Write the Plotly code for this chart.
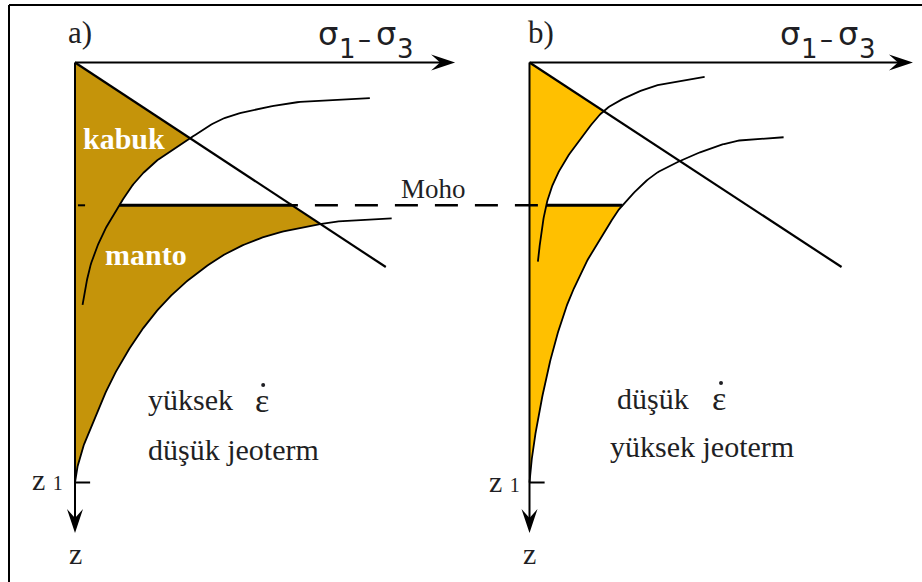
import numpy as np
import plotly.graph_objects as go

# ---- data (stress sigma1-sigma3 on x, depth z downward; z1 = 100) ----
MOHO_Z = 34.0
Z1 = 100.0
DEPTH_AXIS_LEN = 112.0
SIGMA_AXIS_LEN_A = 90.5
SIGMA_AXIS_LEN_B = 91.3

# panel a: high strain rate, low geotherm
fric_a_x = [0.0, 74.0]
fric_a_z = [0.0, 48.7]
crust_a_x = [70.2, 54.4, 42.5, 34.5, 27.0, 20.2, 14.7, 10.6, 6.7, 3.6, 1.8]
crust_a_z = [8.5, 9.3, 11.3, 13.7, 18.3, 22.8, 28.0, 33.9, 40.7, 48.6, 57.7]
mantle_a_x = [75.4, 65.5, 58.3, 46.4, 36.9, 29.0, 22.6, 17.1, 12.3, 8.3, 5.2, 2.8, 0.8, 0.0]
mantle_a_z = [37.1, 37.6, 38.5, 41.1, 45.0, 50.2, 55.8, 62.1, 69.2, 76.4, 83.5, 89.1, 95.4, 100.0]

# panel b: low strain rate, high geotherm
fric_b_x = [0.0, 74.3]
fric_b_z = [0.0, 48.7]
crust_b_x = [41.7, 30.5, 22.6, 17.5, 13.1, 9.1, 6.0, 4.0, 2.8, 2.0]
crust_b_z = [3.4, 5.4, 8.5, 11.7, 16.9, 22.4, 28.0, 33.9, 40.7, 47.4]
mantle_b_x = [60.5, 50.4, 43.3, 35.7, 29.0, 22.2, 18.6, 14.7, 11.5, 9.1, 6.7, 4.8, 3.2, 2.0, 0.8, 0.0]
mantle_b_z = [17.8, 18.5, 20.4, 23.5, 27.2, 33.9, 39.1, 45.4, 51.8, 57.3, 64.5, 71.6, 78.8, 85.1, 92.3, 100.0]

# ---- layout constants ----
W, H = 922, 582
PX = 4.2                      # pixels per unit
OX, OY = 75.0, 62.5           # origin of panel a in pixels
SHIFT_B = 454.5 / PX          # horizontal offset of panel b
FILL_A = "#C5940A"
FILL_B = "#FFC000"
INK = "#1f1f24"
SERIF = "Liberation Serif"
SANS = "DejaVu Sans"


def smooth(xs, zs, n=18):
    """Catmull-Rom path through the given points."""
    P = np.column_stack([xs, zs]).astype(float)
    P = np.vstack([2 * P[0] - P[1], P, 2 * P[-1] - P[-2]])
    t = np.linspace(0, 1, n, endpoint=False)[:, None]
    out = []
    for i in range(1, len(P) - 2):
        p0, p1, p2, p3 = P[i - 1], P[i], P[i + 1], P[i + 2]
        out.append(0.5 * (2 * p1 + (-p0 + p2) * t + (2 * p0 - 5 * p1 + 4 * p2 - p3) * t ** 2
                          + (-p0 + 3 * p1 - 3 * p2 + p3) * t ** 3))
    out.append(P[-2][None, :])
    return np.vstack(out)


def cross(C, f):
    v = f(C[:, 0], C[:, 1])
    i = np.where(np.sign(v[:-1]) != np.sign(v[1:]))[0][0]
    t = v[i] / (v[i] - v[i + 1])
    return i, C[i] + t * (C[i + 1] - C[i])


fig = go.Figure()


def line(xs, zs, width=2.0, dash=None, color="black"):
    fig.add_trace(go.Scatter(x=list(xs), y=list(zs), mode="lines", hoverinfo="skip",
                             line=dict(color=color, width=width, dash=dash)))


def polygon(xs, zs, color):
    fig.add_trace(go.Scatter(x=list(xs), y=list(zs), mode="lines", fill="toself",
                             fillcolor=color, line=dict(width=0), hoverinfo="skip"))


def panel(dx, fx, fz, cx, cz, mx, mz, color, mantle_hits_line):
    s = fz[1] / fx[1]
    C = smooth(cx, cz)
    M = smooth(mx, mz)
    fric = lambda x, z: z - s * x
    moho = lambda x, z: z - MOHO_Z
    i1, p1 = cross(C, fric)
    i2, p2 = cross(C, moho)
    crust_seg = np.vstack([p1, C[i1 + 1:i2 + 1], p2])
    if mantle_hits_line:
        p3 = np.array([MOHO_Z / s, MOHO_Z])
        i4, p4 = cross(M, fric)
        poly = np.vstack([[0, 0], crust_seg, p3, p4, M[i4 + 1:], [0, 0]])
        moho_end = p3
    else:
        i5, p5 = cross(M, moho)
        poly = np.vstack([[0, 0], crust_seg, p5, M[i5 + 1:], [0, 0]])
        moho_end = p5
    polygon(poly[:, 0] + dx, poly[:, 1], color)
    line(np.array(fx) + dx, fz, 2.2)
    line(C[:, 0] + dx, C[:, 1], 1.8)
    line(M[:, 0] + dx, M[:, 1], 1.8)
    line([p2[0] + dx, moho_end[0] + dx], [MOHO_Z, MOHO_Z], 3.0)
    return p2, moho_end


p2a, p3a = panel(0.0, fric_a_x, fric_a_z, crust_a_x, crust_a_z, mantle_a_x, mantle_a_z, FILL_A, True)
p2b, p5b = panel(SHIFT_B, fric_b_x, fric_b_z, crust_b_x, crust_b_z, mantle_b_x, mantle_b_z, FILL_B, False)

# dashed Moho between the panels (drawn right to left)
line([SHIFT_B + 2.0, p3a[0]], [MOHO_Z, MOHO_Z], 2.5, dash="23px,17px")
line([0.7, 2.4], [MOHO_Z, MOHO_Z], 2.0)

# axes with arrowheads
L, HW, NB = 24 / PX, 8.0 / PX, 15 / PX
for dx, slen in [(0.0, SIGMA_AXIS_LEN_A), (SHIFT_B, SIGMA_AXIS_LEN_B)]:
    line([dx, dx + slen - NB], [0, 0], 2.0)
    line([dx, dx], [0, DEPTH_AXIS_LEN - NB], 2.0)
    tx = dx + slen
    polygon([tx, tx - L, tx - NB, tx - L, tx], [0, -HW, 0, HW, 0], "black")
    tz = DEPTH_AXIS_LEN
    polygon([dx, dx - HW, dx, dx + HW, dx], [tz, tz - L, tz - NB, tz - L, tz], "black")
    line([dx, dx + 3.6], [Z1, Z1], 2.0)

# rate dots above the epsilon symbols
fig.add_trace(go.Scatter(x=[44.8, SHIFT_B + 45.6], y=[76.8, 76.3], mode="markers",
                         marker=dict(size=4, color=INK), hoverinfo="skip"))

ann = []


def text(x, z, s, size=30, family=SERIF, color=INK, xanchor="left", bold=False):
    ann.append(dict(x=x, y=z, xref="x", yref="y", text=s, showarrow=False,
                    xanchor=xanchor, yanchor="middle", borderpad=0, borderwidth=0,
                    font=dict(family=family, size=size, color=color,
                              weight="bold" if bold else "normal")))


for dx, extra, tag in [(0.0, 0.0, "a)"), (SHIFT_B, 1.75, "b)")]:
    text(dx + (-1.67 if tag == "a)" else -0.36), -7.05, tag, size=31)
    # sigma1 - sigma3 axis title, glyph by glyph
    for gx, gz, g, sz in [(57.86, -6.81, "σ", 32), (62.86, -3.21, "1", 26),
                          (67.38, -5.71, "–", 26), (71.67, -6.81, "σ", 32),
                          (76.67, -3.21, "3", 26)]:
        text(dx + extra + gx, gz, g, size=sz, family=SANS)
    text(dx, 116.8, "z", size=30, xanchor="center")

text(-2.86, 99.4, 'z <span style="font-size:20px">1</span>', size=30, xanchor="right")
text(SHIFT_B - 2.26, 99.8, 'z <span style="font-size:20px">1</span>', size=30, xanchor="right")

text(1.9, 18.0, "kabuk", color="white", bold=True)
text(7.14, 45.8, "manto", color="white", bold=True)
text(77.6, 30.2, "Moho", size=27)

# strain-rate and geotherm notes
text(17.4, 80.3, "yüksek")
text(44.6, 80.5, "ε", size=34, xanchor="center")
text(17.4, 92.2, "düşük jeoterm")
text(SHIFT_B + 20.8, 79.9, "düşük")
text(SHIFT_B + 45.2, 79.9, "ε", size=34, xanchor="center")
text(SHIFT_B + 19.2, 91.5, "yüksek jeoterm")

# frame
shapes = [
    dict(type="line", xref="paper", yref="paper", x0=9 / W, x1=1, y0=1 - 5 / H, y1=1 - 5 / H,
         line=dict(color="black", width=2)),
    dict(type="line", xref="paper", yref="paper", x0=9 / W, x1=9 / W, y0=0, y1=1 - 5 / H,
         line=dict(color="black", width=2)),
]

fig.update_layout(
    width=W, height=H, autosize=False, margin=dict(l=0, r=0, t=0, b=0, pad=0),
    paper_bgcolor="white", plot_bgcolor="white", showlegend=False,
    xaxis=dict(range=[-OX / PX, (W - OX) / PX], visible=False, fixedrange=True),
    yaxis=dict(range=[(H - OY) / PX, -OY / PX], visible=False, fixedrange=True),
    annotations=ann, shapes=shapes,
)

fig.write_html("out.html")
